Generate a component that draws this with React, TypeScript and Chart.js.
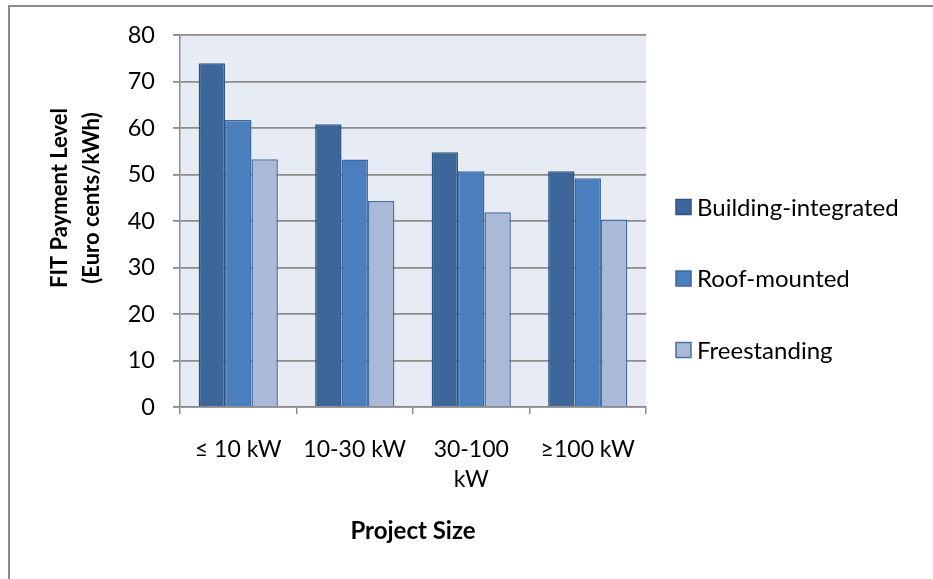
import { useEffect, useRef } from "react";
import { Chart, registerables } from "chart.js";

Chart.register(...registerables);

const categories: string[][] = [["≤ 10 kW"], ["10-30 kW"], ["30-100", "kW"], ["≥100 kW"]];
const seriesNames = ["Building-integrated", "Roof-mounted", "Freestanding"];
const buildingIntegrated = [73.9, 60.8, 54.8, 50.7];
const roofMounted = [61.7, 53.2, 50.7, 49.2];
const freestanding = [53.3, 44.3, 41.9, 40.3];
const yMin = 0;
const yMax = 80;
const yStep = 10;
const yTitle = ["FIT Payment Level", "(Euro cents/kWh)"];
const xTitle = "Project Size";

const FONT = "Lato, 'Open Sans', sans-serif";
const fills = ["#3D6798", "#4A7EBD", "#AAB9D8"];
const borders = ["#2E5386", "#3A68A2", "#4A6FA5"];

const W = 933;
const H = 579;
const AREA = { left: 180, right: 646, top: 35, bottom: 407 };

export default function App() {
  const ref = useRef<HTMLCanvasElement | null>(null);

  useEffect(() => {
    document.body.style.margin = "0";
    document.body.style.overflow = "hidden";
    const canvas = ref.current;
    if (!canvas) return;

    const extras = {
      id: "extras",
      beforeDraw(chart: any) {
        const { ctx, chartArea } = chart;
        ctx.save();
        ctx.fillStyle = "#FFFFFF";
        ctx.fillRect(0, 0, W, H);
        ctx.fillStyle = "#E7ECF4";
        ctx.fillRect(chartArea.left, chartArea.top, chartArea.right - chartArea.left, chartArea.bottom - chartArea.top);
        ctx.restore();
      },
      afterDraw(chart: any) {
        const { ctx } = chart;
        ctx.save();
        ctx.fillStyle = "#000";
        ctx.font = `bold 22px ${FONT}`;
        ctx.textAlign = "center";
        ctx.textBaseline = "middle";
        ctx.translate(76, 198);
        ctx.rotate(-Math.PI / 2);
        ctx.fillText(yTitle[0], 0, -16);
        ctx.fillText(yTitle[1], 0, 16);
        ctx.restore();

        ctx.save();
        ctx.fillStyle = "#000";
        ctx.font = `bold 24px ${FONT}`;
        ctx.textAlign = "center";
        ctx.textBaseline = "middle";
        const a = chart.chartArea;
        ctx.fillText(xTitle, (a.left + a.right) / 2, 531);
        ctx.restore();

        ctx.save();
        const ys = [207, 278.5, 350];
        chart.data.datasets.forEach((ds: any, i: number) => {
          const y = ys[i];
          ctx.fillStyle = ds.backgroundColor;
          ctx.fillRect(676, y - 7.5, 15, 15);
          ctx.strokeStyle = ds.borderColor;
          ctx.lineWidth = 1.5;
          ctx.strokeRect(676, y - 7.5, 15, 15);
          ctx.fillStyle = "#000";
          ctx.font = `24px ${FONT}`;
          ctx.textAlign = "left";
          ctx.textBaseline = "middle";
          ctx.fillText(ds.label, 697, y + 1);
        });
        ctx.restore();
      },
    };

    const chart = new Chart(canvas, {
      type: "bar",
      data: {
        labels: categories,
        datasets: [buildingIntegrated, roofMounted, freestanding].map((d, i) => ({
          label: seriesNames[i],
          data: d,
          backgroundColor: fills[i],
          borderColor: borders[i],
          borderWidth: 1.5,
          categoryPercentage: 0.68,
          barPercentage: 1.0,
        })),
      },
      options: {
        animation: false,
        responsive: false,
        devicePixelRatio: 1,
        layout: {
          padding: { left: 0, top: AREA.top, right: W - AREA.right, bottom: 0 },
        },
        plugins: {
          legend: { display: false },
          tooltip: { enabled: false },
          title: { display: false },
        },
        scales: {
          x: {
            afterFit(scale: any) {
              scale.height = H - AREA.bottom;
            },
            grid: {
              display: true,
              drawOnChartArea: false,
              drawTicks: true,
              tickLength: 7,
              color: "#8C8C8C",
              lineWidth: 1.5,
            },
            border: { display: true, color: "#8C8C8C", width: 1.5 },
            ticks: {
              color: "#000",
              padding: 21,
              font: { family: FONT, size: 23, lineHeight: 1.3 },
              maxRotation: 0,
              autoSkip: false,
            },
          },
          y: {
            min: yMin,
            max: yMax,
            afterFit(scale: any) {
              scale.width = AREA.left;
            },
            grid: {
              color: "#8C8C8C",
              lineWidth: 1.8,
              drawTicks: true,
              tickLength: 7,
            },
            border: { display: true, color: "#8C8C8C", width: 1.5 },
            ticks: {
              stepSize: yStep,
              color: "#000",
              padding: 18,
              font: { family: FONT, size: 23.5 },
            },
          },
        },
      },
      plugins: [extras],
    });
    return () => chart.destroy();
  }, []);

  return (
    <div style={{ position: "fixed", left: 0, top: 0, width: W, height: H, overflow: "hidden", background: "#fff" }}>
      <canvas ref={ref} width={W} height={H} style={{ position: "absolute", left: 0, top: 0, width: W, height: H }} />
      <div
        style={{
          position: "absolute",
          left: 8,
          top: 5,
          width: W + 20,
          height: H + 20,
          borderTop: "2px solid #8C8C8C",
          borderLeft: "2px solid #8C8C8C",
          boxSizing: "border-box",
          pointerEvents: "none",
        }}
      />
    </div>
  );
}
